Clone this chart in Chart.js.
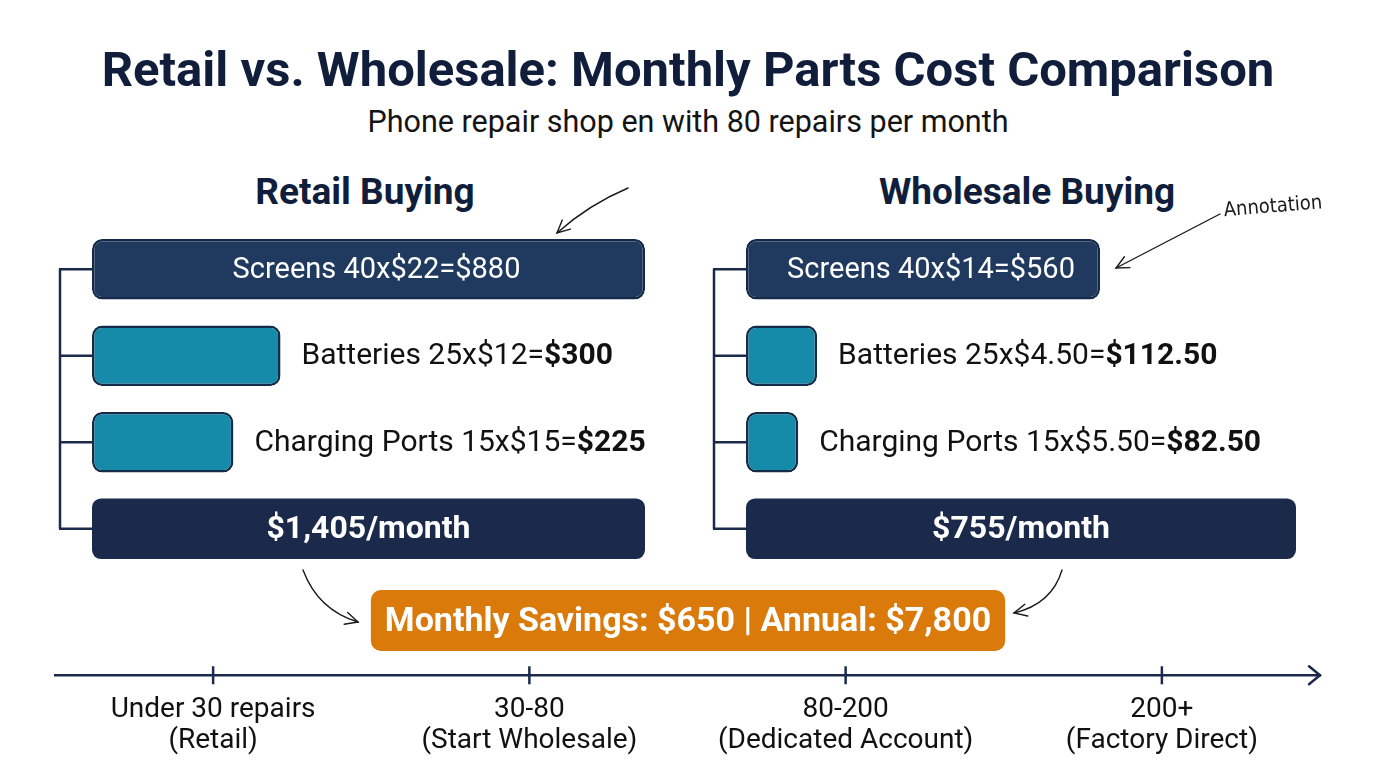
<!DOCTYPE html>
<html>
<head>
<meta charset="utf-8">
<script src="https://cdn.jsdelivr.net/npm/chart.js@4.4.0/dist/chart.umd.min.js"></script>
<style>
  html, body { margin: 0; background: #fff; width: 1376px; height: 768px; overflow: hidden; font-family: Roboto, sans-serif; }
  canvas.layer { position: absolute; left: 0; top: 0; }
  .txt { position: absolute; text-align: center; color: #101d3b; white-space: nowrap; }
  #title { left: 0; width: 1376px; top: 41px; font-size: 49px; font-weight: 700; }
  #subtitle { left: 0; width: 1376px; top: 104px; font-size: 30.5px; color: #141414; }
  .head { top: 170px; font-size: 37px; font-weight: 700; width: 500px; }
</style>
</head>
<body>
<div id="title" class="txt">Retail vs. Wholesale: Monthly Parts Cost Comparison</div>
<div id="subtitle" class="txt">Phone repair shop en with 80 repairs per month</div>
<div class="txt head" style="left:115px">Retail Buying</div>
<div class="txt head" style="left:777px">Wholesale Buying</div>

<canvas id="retailChart" class="layer" width="1376" height="768"></canvas>
<canvas id="wholesaleChart" class="layer" width="1376" height="768"></canvas>
<canvas id="tierChart" class="layer" width="1376" height="768"></canvas>

<script>
// parts bought each month
const parts = ['Screens', 'Batteries', 'Charging Ports'];
const quantities = [40, 25, 15];

// unit prices and monthly cost per part
const retailPrices = [22, 12, 15];
const retailCosts = [880, 300, 225];
const wholesalePrices = [14, 4.50, 5.50];
const wholesaleCosts = [560, 112.50, 82.50];

// volume tiers on the bottom axis
const tierLabels = [
    ['Under 30 repairs', '(Retail)'],
    ['30-80', '(Start Wholesale)'],
    ['80-200', '(Dedicated Account)'],
    ['200+', '(Factory Direct)']
];

const NAVY = '#1f3a5e';
const NAVY_DARK = '#1b2a4b';
const TEAL = '#168aa9';
const ORANGE = '#d97a0b';
const INK = '#111111';
const FONT = 'Roboto, sans-serif';

function money(v) {
    if (Number.isInteger(v)) return v.toLocaleString('en-US');
    return v.toFixed(2);
}
function sum(arr) {
    return arr.reduce((a, b) => a + b, 0);
}

function makeCostChart(id, prices, costs, padLeft, padRight, xMax) {
    var total = sum(costs);
    var costPlugin = {
        id: 'costLabels',
        beforeDatasetsDraw(chart) {
            var ctx = chart.ctx;
            var area = chart.chartArea;
            var ys = chart.scales.y;
            var bx = area.left - 32;
            ctx.save();
            ctx.strokeStyle = NAVY_DARK;
            ctx.lineWidth = 2.5;
            ctx.beginPath();
            ctx.moveTo(bx, ys.getPixelForValue(0));
            ctx.lineTo(bx, ys.getPixelForValue(3));
            for (var i = 0; i < 4; i++) {
                ctx.moveTo(bx - 1, ys.getPixelForValue(i));
                ctx.lineTo(area.left, ys.getPixelForValue(i));
            }
            ctx.stroke();
            ctx.restore();
        },
        afterDatasetsDraw(chart) {
            var ctx = chart.ctx;
            var area = chart.chartArea;
            var ys = chart.scales.y;
            var meta = chart.getDatasetMeta(0);
            var h = meta.data[0].height;
            ctx.save();
            ctx.textBaseline = 'middle';
            meta.data.forEach(function (bar, i) {
                if (i > 2) return;
                var main = parts[i] + ' ' + quantities[i] + 'x$' + money(prices[i]) + '=';
                var val = '$' + money(costs[i]);
                if (i == 0) {
                    ctx.font = '400 29px ' + FONT;
                    ctx.fillStyle = '#ffffff';
                    ctx.textAlign = 'center';
                    ctx.fillText(main + val, (bar.base + bar.x) / 2 + 8, bar.y + 1);
                } else {
                    ctx.textAlign = 'left';
                    ctx.fillStyle = INK;
                    ctx.font = '400 30px ' + FONT;
                    var x = bar.x + 21;
                    ctx.fillText(main, x, bar.y + 1);
                    x += ctx.measureText(main).width;
                    ctx.font = '700 30px ' + FONT;
                    ctx.fillText(val, x, bar.y + 1);
                }
            });
            // total row
            var ty = ys.getPixelForValue(3);
            ctx.fillStyle = NAVY_DARK;
            ctx.beginPath();
            ctx.roundRect(area.left, ty - h / 2, area.right - area.left, h, 9);
            ctx.fill();
            ctx.fillStyle = '#ffffff';
            ctx.textAlign = 'center';
            ctx.font = '700 32px ' + FONT;
            ctx.fillText('$' + money(total) + '/month', (area.left + area.right) / 2, ty + 1);
            ctx.restore();
        }
    };

    return new Chart(document.getElementById(id), {
        type: 'bar',
        data: {
            labels: parts.concat(['Total']),
            datasets: [{
                data: costs.concat([null]),
                backgroundColor: [NAVY, TEAL, TEAL, 'transparent'],
                borderColor: ['#15294a', '#142b4a', '#142b4a', 'transparent'],
                borderWidth: 2.5,
                borderRadius: 10,
                borderSkipped: false,
                barPercentage: 0.7,
                categoryPercentage: 1
            }]
        },
        options: {
            indexAxis: 'y',
            responsive: false,
            animation: false,
            layout: { padding: { left: padLeft, right: padRight, top: 226, bottom: 196 } },
            scales: {
                x: { display: false, min: 0, max: xMax },
                y: { display: false }
            },
            plugins: { legend: { display: false }, tooltip: { enabled: false } }
        },
        plugins: [costPlugin]
    });
}

makeCostChart('retailChart', retailPrices, retailCosts, 92, 1376 - 645, 880);
makeCostChart('wholesaleChart', wholesalePrices, wholesaleCosts, 746, 1376 - 1296, 870);

function arrowHead(ctx, x, y, ang) {
    var L = 14;
    ctx.beginPath();
    ctx.moveTo(x + L * Math.cos(ang + Math.PI - 0.45), y + L * Math.sin(ang + Math.PI - 0.45));
    ctx.lineTo(x, y);
    ctx.lineTo(x + L * Math.cos(ang + Math.PI + 0.45), y + L * Math.sin(ang + Math.PI + 0.45));
    ctx.stroke();
}
function curveArrow(ctx, x0, y0, cx, cy, x1, y1) {
    ctx.beginPath();
    ctx.moveTo(x0, y0);
    ctx.quadraticCurveTo(cx, cy, x1, y1);
    ctx.stroke();
    arrowHead(ctx, x1, y1, Math.atan2(y1 - cy, x1 - cx));
}

var tierPlugin = {
    id: 'tierDecor',
    afterDraw(chart) {
        var ctx = chart.ctx;
        var xs = chart.scales.x;
        var y = xs.top;
        ctx.save();
        ctx.strokeStyle = NAVY_DARK;
        ctx.lineWidth = 2.5;
        tierLabels.forEach(function (t, i) {
            var x = xs.getPixelForTick(i);
            ctx.beginPath();
            ctx.moveTo(x, y - 9);
            ctx.lineTo(x, y + 9);
            ctx.stroke();
        });
        ctx.lineCap = 'round';
        ctx.beginPath();
        ctx.moveTo(xs.right - 11, y - 9);
        ctx.lineTo(xs.right, y);
        ctx.lineTo(xs.right - 11, y + 9);
        ctx.stroke();

        // savings box
        var monthly = sum(retailCosts) - sum(wholesaleCosts);
        var text = 'Monthly Savings: $' + money(monthly) + ' | Annual: $' + money(monthly * 12);
        ctx.font = '700 34px ' + FONT;
        var w = ctx.measureText(text).width + 28;
        ctx.fillStyle = ORANGE;
        ctx.beginPath();
        ctx.roundRect(688 - w / 2, 590, w, 61, 10);
        ctx.fill();
        ctx.fillStyle = '#ffffff';
        ctx.textAlign = 'center';
        ctx.textBaseline = 'middle';
        ctx.fillText(text, 688, 622);

        // hand drawn arrows
        ctx.strokeStyle = '#1a1a1a';
        ctx.lineWidth = 1.4;
        curveArrow(ctx, 303, 570, 318, 610, 358, 622);
        curveArrow(ctx, 1062, 570, 1052, 604, 1014, 613);
        curveArrow(ctx, 628, 188, 588, 205, 557, 233);
        curveArrow(ctx, 1220, 214, 1170, 240, 1116, 268);

        ctx.translate(1273, 207);
        ctx.rotate(-0.08);
        ctx.fillStyle = '#1a1a1a';
        ctx.font = '300 20px "DejaVu Sans Condensed", "DejaVu Sans", sans-serif';
        ctx.fillText('Annotation', 0, 0);
        ctx.restore();
    }
};

new Chart(document.getElementById('tierChart'), {
    type: 'line',
    data: { labels: tierLabels, datasets: [{ data: [] }] },
    options: {
        responsive: false,
        animation: false,
        layout: { padding: { left: 55, right: 56, top: 480, bottom: 11 } },
        scales: {
            x: {
                offset: true,
                grid: { display: false, drawTicks: true, tickLength: 19 },
                border: { color: NAVY_DARK, width: 2.5 },
                ticks: {
                    color: INK,
                    padding: 0,
                    maxRotation: 0,
                    autoSkip: false,
                    font: { family: FONT, size: 28, lineHeight: 1.12 }
                }
            },
            y: { display: false }
        },
        plugins: { legend: { display: false }, tooltip: { enabled: false } }
    },
    plugins: [tierPlugin]
});
</script>
</body>
</html>
